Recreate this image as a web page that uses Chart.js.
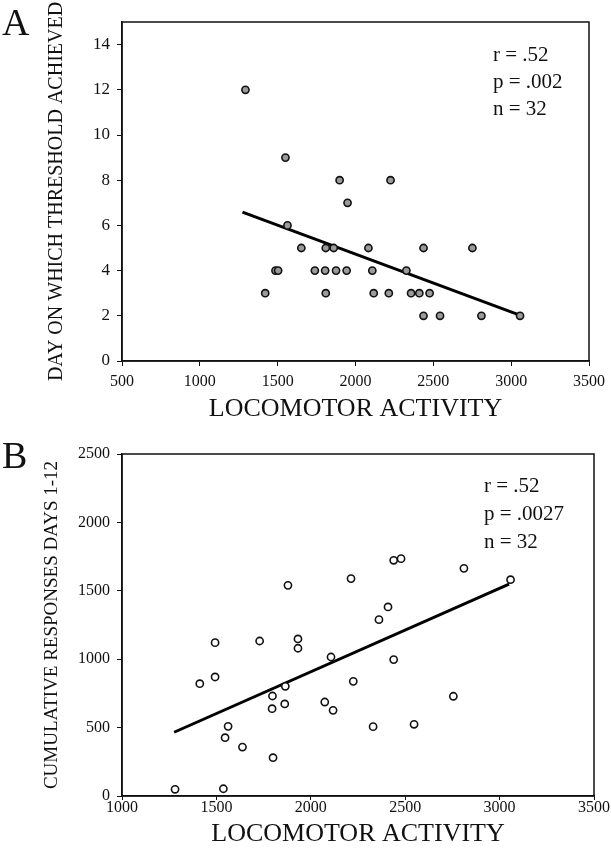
<!DOCTYPE html>
<html lang="en">
<head>
    <meta charset="UTF-8">
    <title>Locomotor activity scatter plots</title>
    <script src="https://cdn.jsdelivr.net/npm/chart.js"></script>
    <style>
        body { margin: 0; background: #fff; }
        #page { position: relative; width: 611px; height: 853px; font-family: "Liberation Serif", serif; color: #111; }
        canvas { position: absolute; left: 0; }
        .letter { position: absolute; font-size: 38px; line-height: 38px; }
        .stats { position: absolute; font-size: 21px; white-space: pre; }
    </style>
</head>
<body>
<div id="page">
    <canvas id="chartA" width="611" height="425" style="top:0"></canvas>
    <canvas id="chartB" width="611" height="428" style="top:425px"></canvas>
    <div class="letter" style="left:2px; top:3px">A</div>
    <div class="letter" style="left:2px; top:436px">B</div>
    <div class="stats" style="left:493px; top:41px; line-height:27px">r = .52
p = .002
n = 32</div>
    <div class="stats" style="left:484px; top:471px; line-height:28px">r = .52
p = .0027
n = 32</div>
</div>

<script>
    // panel A - day on which threshold achieved
    const activityA = [1293, 1550, 1898, 2225, 1949, 1563, 1652, 1809, 1860, 2083, 2437, 2751,
        1486, 1503, 1739, 1805, 1875, 1943, 2108, 2327,
        1420, 1809, 2117, 2214, 2357, 2410, 2476,
        2437, 2543, 2809, 3057];
    const dayA = [12, 9, 8, 8, 7, 6, 5, 5, 5, 5, 5, 5,
        4, 4, 4, 4, 4, 4, 4, 4,
        3, 3, 3, 3, 3, 3, 3,
        2, 2, 2, 2];
    const fitAx = [1274, 3042];
    const fitAy = [6.59, 2.06];
    const xTicksA = [500, 1000, 1500, 2000, 2500, 3000, 3500];
    const yTicksA = [0, 2, 4, 6, 8, 10, 12, 14];

    // panel B - cumulative responses days 1-12
    const activityB = [1281, 1537, 1412, 1493, 1493, 1546, 1562, 1638, 1729, 1797, 1795, 1800,
        1862, 1865, 1879, 1932, 1932, 2074, 2107, 2118, 2213, 2225, 2330, 2361,
        2409, 2439, 2439, 2478, 2547, 2755, 2811, 3058];
    const responsesB = [49, 53, 821, 1121, 870, 426, 509, 358, 1133, 731, 638, 280,
        673, 802, 1540, 1148, 1080, 687, 1016, 626, 1589, 838, 507, 1289,
        1382, 997, 1723, 1735, 524, 729, 1664, 1581];
    const fitBx = [1276, 3050];
    const fitBy = [466, 1548];
    const xTicksB = [1000, 1500, 2000, 2500, 3000, 3500];
    const yTicksB = [0, 500, 1000, 1500, 2000, 2500];

    Chart.defaults.font.family = "'Liberation Serif', serif";
    Chart.defaults.color = '#111';

    const frame = {
        id: 'frame',
        afterDatasetsDraw(chart) {
            const a = chart.chartArea;
            const ctx = chart.ctx;
            ctx.save();
            ctx.strokeStyle = '#111';
            ctx.lineWidth = 1.5;
            ctx.strokeRect(a.left, a.top, a.right - a.left, a.bottom - a.top);
            ctx.restore();
        }
    };

    function pairs(xs, ys) {
        return xs.map((x, i) => ({ x: x, y: ys[i] }));
    }

    function makeChart(id, o) {
        return new Chart(document.getElementById(id), {
            type: 'scatter',
            data: {
                datasets: [{
                    data: pairs(o.xs, o.ys),
                    backgroundColor: o.fill,
                    borderColor: '#111',
                    borderWidth: 1.6,
                    pointRadius: 3.6
                }, {
                    type: 'line',
                    data: pairs(o.fitX, o.fitY),
                    borderColor: '#000',
                    borderWidth: 3,
                    pointRadius: 0,
                    fill: false
                }]
            },
            options: {
                responsive: false,
                animation: false,
                devicePixelRatio: 1,
                layout: { padding: { top: o.padTop, right: o.padRight, left: 0, bottom: 0 } },
                plugins: { legend: { display: false }, tooltip: { enabled: false } },
                scales: {
                    x: {
                        type: 'linear',
                        min: o.xTicks[0],
                        max: o.xTicks[o.xTicks.length - 1],
                        afterBuildTicks: s => { s.ticks = o.xTicks.map(v => ({ value: v })); },
                        afterFit: s => { s.height = o.xHeight; },
                        grid: { drawOnChartArea: false, color: '#111', tickLength: o.xTickLen },
                        border: { color: '#111', width: 1.5 },
                        ticks: {
                            color: '#111', font: { size: 16 }, padding: o.xTickPad,
                            maxRotation: 0, autoSkip: false, callback: v => String(v)
                        },
                        title: {
                            display: true,
                            text: 'LOCOMOTOR ACTIVITY',
                            color: '#111',
                            font: { size: 26 },
                            padding: { top: 0, bottom: o.xTitlePad }
                        }
                    },
                    y: {
                        min: o.yTicks[0],
                        max: o.yMax,
                        afterBuildTicks: s => { s.ticks = o.yTicks.map(v => ({ value: v })); },
                        afterFit: s => { s.width = 122; },
                        grid: { drawOnChartArea: false, color: '#111', tickLength: 5 },
                        border: { color: '#111', width: 1.5 },
                        ticks: {
                            color: '#111', font: { size: o.yTickSize }, padding: 7,
                            autoSkip: false, callback: v => String(v)
                        },
                        title: {
                            display: true,
                            text: o.yTitle,
                            color: '#111',
                            font: { size: o.yTitleSize },
                            padding: { top: o.yTitlePad, bottom: 0 }
                        }
                    }
                }
            },
            plugins: [frame]
        });
    }

    makeChart('chartA', {
        xs: activityA, ys: dayA, fitX: fitAx, fitY: fitAy,
        xTicks: xTicksA, yTicks: yTicksA, yMax: 15,
        fill: '#9a9a9a',
        padTop: 22, padRight: 18, xHeight: 64, xTickLen: 5, xTickPad: 6, xTitlePad: 0,
        yTitle: 'DAY ON WHICH THRESHOLD ACHIEVED', yTitleSize: 20, yTitlePad: 45, yTickSize: 17
    });

    makeChart('chartB', {
        xs: activityB, ys: responsesB, fitX: fitBx, fitY: fitBy,
        xTicks: xTicksB, yTicks: yTicksB, yMax: 2500,
        fill: '#ffffff',
        padTop: 29, padRight: 17, xHeight: 57, xTickLen: 4, xTickPad: -2, xTitlePad: 3,
        yTitle: 'CUMULATIVE RESPONSES DAYS 1-12', yTitleSize: 19, yTitlePad: 41, yTickSize: 16
    });
</script>
</body>
</html>
